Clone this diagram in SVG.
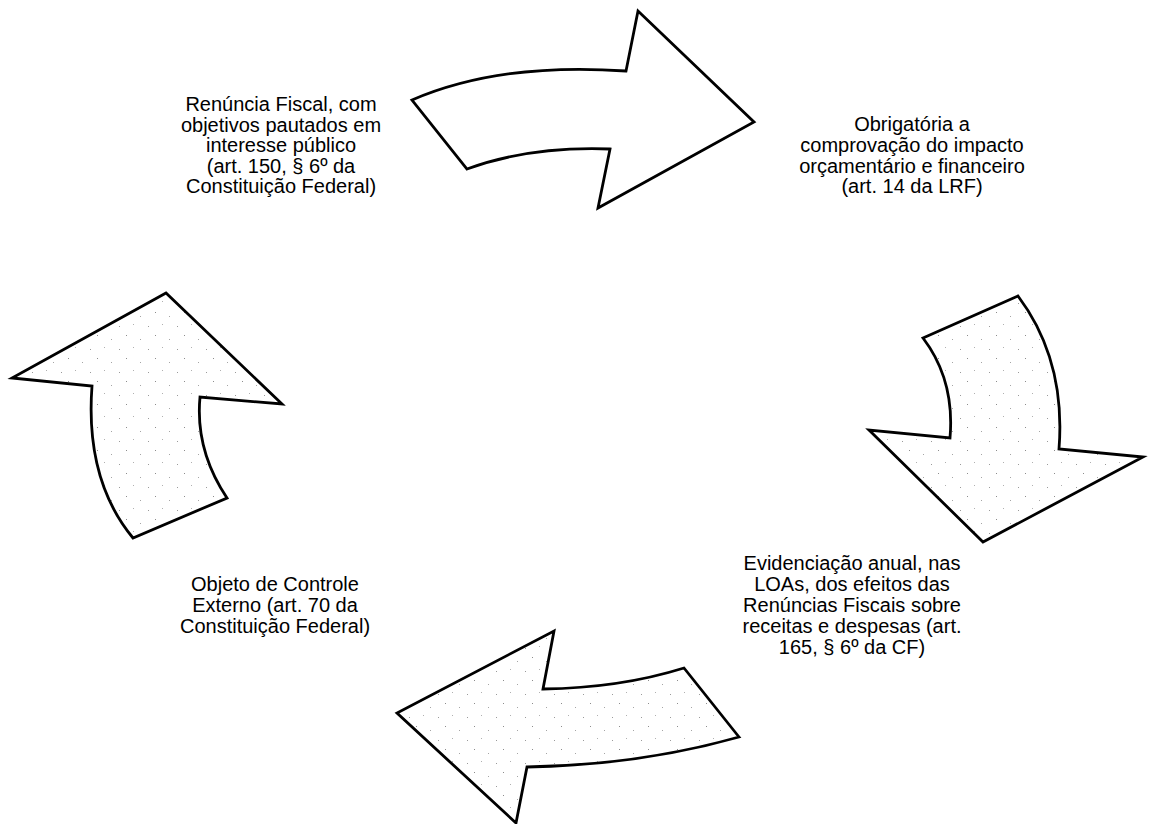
<svg xmlns="http://www.w3.org/2000/svg" width="1152" height="824" viewBox="0 0 1152 824">
  <defs>
    <pattern id="stipple" width="29" height="23" patternUnits="userSpaceOnUse">
      <rect width="29" height="23" fill="#ffffff"/>
      <rect x="3" y="4" width="1" height="1" fill="#9a9a9a"/>
      <rect x="17" y="2" width="1" height="1" fill="#b0b0b0"/>
      <rect x="10" y="13" width="1" height="1" fill="#8c8c8c"/>
      <rect x="24" y="17" width="1" height="1" fill="#a5a5a5"/>
    </pattern>
  </defs>
  <style>
    .arrow { stroke: #000; stroke-width: 2.8; stroke-linejoin: miter; }
    .plain { fill: #ffffff; }
    .dotted { fill: url(#stipple); }
    .lbl { font-family: "Liberation Sans", Arial, sans-serif; font-size: 20px; fill: #000; text-anchor: middle; }
  </style>
  <rect width="1152" height="824" fill="#ffffff"/>

  <g id="connectors">
    <path id="arrow-top" class="arrow plain" d="M412,100 Q500,62 626,71 L638,11 L754,122 L598,208 L610,149 Q530,146 467,169 Z"/>
    <path id="arrow-right" class="arrow dotted" d="M923,338 L1018,296 Q1066,360 1059,449 L1143,457 L983,542 L869,430 L950,438 Q955,380 923,338 Z"/>
    <path id="arrow-bottom" class="arrow dotted" d="M739,737 L684,668 Q620,688 543,689 L554,631 L397,713 L516,823 L527,767 Q640,765 739,737 Z"/>
    <path id="arrow-left" class="arrow dotted" d="M166,293 L12,378 L92,386 Q85,480 133,538 L227,498 Q195,450 200,397 L282,404 Z"/>
  </g>

  <g id="node-renuncia">
    <text class="lbl" x="281" y="111">Renúncia Fiscal, com</text>
    <text class="lbl" x="281" y="132">objetivos pautados em</text>
    <text class="lbl" x="281" y="152">interesse público</text>
    <text class="lbl" x="281" y="173">(art. 150, § 6º da</text>
    <text class="lbl" x="281" y="193">Constituição Federal)</text>
  </g>

  <g id="node-obrigatoria">
    <text class="lbl" x="912" y="131">Obrigatória a</text>
    <text class="lbl" x="912" y="152">comprovação do impacto</text>
    <text class="lbl" x="912" y="173">orçamentário e financeiro</text>
    <text class="lbl" x="912" y="193">(art. 14 da LRF)</text>
  </g>

  <g id="node-evidenciacao">
    <text class="lbl" x="852" y="570">Evidenciação anual, nas</text>
    <text class="lbl" x="852" y="591">LOAs, dos efeitos das</text>
    <text class="lbl" x="852" y="612">Renúncias Fiscais sobre</text>
    <text class="lbl" x="852" y="633">receitas e despesas (art.</text>
    <text class="lbl" x="852" y="654">165, § 6º da CF)</text>
  </g>

  <g id="node-controle">
    <text class="lbl" x="275" y="591">Objeto de Controle</text>
    <text class="lbl" x="275" y="612">Externo (art. 70 da</text>
    <text class="lbl" x="275" y="633">Constituição Federal)</text>
  </g>
</svg>
